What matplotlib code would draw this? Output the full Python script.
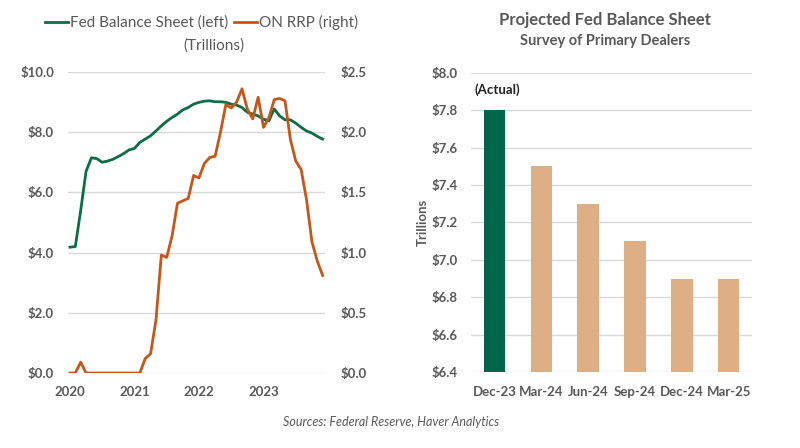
import matplotlib
matplotlib.use('Agg')
import matplotlib.pyplot as plt
import numpy as np

plt.rcParams['font.family'] = ['Lato', 'DejaVu Sans']

# Monthly data Jan 2020 - Dec 2023 (trillions)
fed_balance = [4.18, 4.20, 5.40, 6.70, 7.15, 7.12, 7.00, 7.04, 7.10, 7.19, 7.29, 7.41,
               7.46, 7.66, 7.77, 7.88, 8.04, 8.21, 8.36, 8.49, 8.60, 8.74, 8.82, 8.93,
               8.99, 9.03, 9.04, 9.01, 9.01, 8.99, 8.93, 8.90, 8.82, 8.66, 8.60, 8.54,
               8.43, 8.38, 8.77, 8.54, 8.41, 8.41, 8.30, 8.16, 8.04, 7.97, 7.86, 7.77]
on_rrp = [0.00, 0.00, 0.09, 0.00, 0.00, 0.00, 0.00, 0.00, 0.00, 0.00, 0.00, 0.00,
          0.00, 0.00, 0.12, 0.16, 0.44, 0.98, 0.96, 1.14, 1.41, 1.43, 1.45, 1.64,
          1.62, 1.74, 1.79, 1.80, 2.00, 2.23, 2.20, 2.25, 2.36, 2.19, 2.11, 2.29,
          2.04, 2.12, 2.27, 2.28, 2.26, 1.94, 1.76, 1.69, 1.44, 1.09, 0.93, 0.81]
years = [2020, 2021, 2022, 2023]

bar_labels = ['Dec-23', 'Mar-24', 'Jun-24', 'Sep-24', 'Dec-24', 'Mar-25']
bar_values = [7.8, 7.5, 7.3, 7.1, 6.9, 6.9]

green = '#0B6E45'
orange = '#C5571A'
bar_green = '#00664A'
tan = '#DEAF84'
gray = '#595959'
grid = '#D9D9D9'

fig = plt.figure(figsize=(8, 4.48), dpi=100)

# ---- left: line chart with twin axes
ax1 = fig.add_axes([0.085, 0.1674, 0.321, 0.672])
ax2 = ax1.twinx()
x = 2020 + np.arange(len(fed_balance)) / 12
l1, = ax1.plot(x, fed_balance, color=green, lw=2, label='Fed Balance Sheet (left)')
l2, = ax2.plot(x, on_rrp, color=orange, lw=2, label='ON RRP (right)')
ax1.set_xlim(2019.97, 2023.95)
ax1.set_ylim(0, 10)
ax2.set_ylim(0, 2.5)
ax1.set_yticks(np.arange(0, 10.1, 2))
ax2.set_yticks(np.arange(0, 2.51, 0.5))
ax1.set_yticklabels([f'${v:.1f}' for v in np.arange(0, 10.1, 2)])
ax2.set_yticklabels([f'${v:.1f}' for v in np.arange(0, 2.51, 0.5)])
ax1.set_xticks(years)
ax1.set_xticklabels([str(y) for y in years])
ax1.grid(axis='y', color=grid, lw=1)
ax1.set_axisbelow(True)
for a in (ax1, ax2):
    for s in a.spines.values():
        s.set_visible(False)
    a.tick_params(length=0, colors=gray, labelsize=9.5)
    for t in a.get_yticklabels() + a.get_xticklabels():
        t.set_fontweight('bold')
ax1.tick_params(axis='y', pad=10)
ax2.tick_params(axis='y', pad=11)
ax1.tick_params(axis='x', pad=9)

fig.legend(handles=[l1, l2], loc='center left', bbox_to_anchor=(0.056, 0.95), ncol=2,
           frameon=False, fontsize=11, handlelength=1.5, handletextpad=0.15,
           columnspacing=0.35, labelcolor=gray, borderaxespad=0, borderpad=0)
fig.text(0.268, 0.898, '(Trillions)', ha='center', va='center', fontsize=11, color=gray)

# ---- right: bar chart
ax3 = fig.add_axes([0.589, 0.169, 0.351, 0.669])
colors = [bar_green] + [tan] * (len(bar_values) - 1)
pos = np.arange(len(bar_labels))
ax3.bar(pos, bar_values, width=0.46, color=colors, zorder=2)
ax3.set_ylim(6.4, 8.0)
ax3.set_xlim(-0.5, len(bar_labels) - 0.5)
yt = np.arange(6.4, 8.01, 0.2)
ax3.set_yticks(yt)
ax3.set_yticklabels([f'${v:.1f}' for v in yt])
ax3.set_xticks(pos)
ax3.set_xticklabels(bar_labels)
ax3.grid(axis='y', color=grid, lw=1)
ax3.set_axisbelow(True)
for s in ax3.spines.values():
    s.set_visible(False)
ax3.tick_params(length=0, colors=gray, labelsize=9.5)
ax3.tick_params(axis='y', pad=10)
ax3.tick_params(axis='x', pad=10)
for t in ax3.get_yticklabels() + ax3.get_xticklabels():
    t.set_fontweight('bold')
ax3.set_ylabel('Trillions', color=gray, fontsize=9.5, fontweight='bold', labelpad=2)
ax3.text(pos[0] - 0.42, bar_values[0] + 0.075, '(Actual)', ha='left', va='bottom',
         fontsize=9.5, fontweight='bold', color='#222222')

fig.text(0.756, 0.955, 'Projected Fed Balance Sheet', ha='center', va='center',
         fontsize=12, fontweight='bold', color=gray)
fig.text(0.756, 0.908, 'Survey of Primary Dealers', ha='center', va='center',
         fontsize=10.5, fontweight='bold', color=gray)

fig.text(0.489, 0.057, 'Sources: Federal Reserve, Haver Analytics', ha='center',
         va='center', fontsize=9, style='italic', color=gray)

fig.savefig('out.png', dpi=100, facecolor='white')
